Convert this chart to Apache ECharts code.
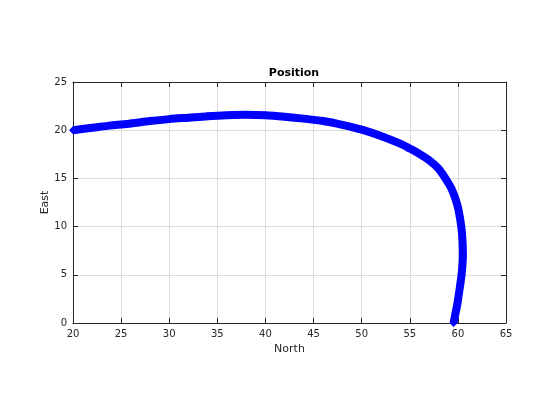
<!DOCTYPE html>
<html><head><meta charset="utf-8">
<script src="https://cdn.jsdelivr.net/npm/echarts@6/dist/echarts.min.js"></script>
<style>html,body{margin:0;padding:0;background:#fff}#c{width:560px;height:420px}</style>
</head><body><div id="c"></div>
<script>
var northValues = [59.55,59.75,59.95,60.1,60.25,60.38,60.47,60.52,60.5,60.45,60.35,60.2,60.0,59.7,59.3,58.7,58.0,57.0,56.0,55.0,54.0,52.0,50.0,48.0,46.0,44.0,42.0,40.0,38.0,36.0,34.0,32.0,30.0,28.0,26.0,24.0,22.0,20.0];
var eastValues  = [0,1,2,3,4,5,6,7,8,9,10,11,12,13,14,15,16,16.9,17.55,18.1,18.6,19.4,20.05,20.55,20.95,21.2,21.4,21.55,21.6,21.55,21.45,21.3,21.15,20.95,20.7,20.5,20.25,20.0];
var xTicks = [20,25,30,35,40,45,50,55,60,65];
var yTicks = [0,5,10,15,20,25];

var pts = northValues.map(function(v,i){return [v, eastValues[i]];});
var font = 'DejaVu Sans';
var axisCol = '#262626';
var chart = echarts.init(document.getElementById('c'), null, {renderer:'canvas'});
chart.setOption({
  animation:false,
  backgroundColor:'#fff',
  title:{text:'Position', left:289, top:63, textAlign:'center',
    textStyle:{fontFamily:font, fontSize:11, fontWeight:'bold', color:'#000'}},
  grid:{left:73, right:54, top:82, bottom:97, containLabel:false},
  xAxis:[{
    type:'value', min:xTicks[0], max:xTicks[xTicks.length-1], interval:5,
    name:'North', nameLocation:'middle', nameGap:20,
    nameTextStyle:{fontFamily:font, fontSize:11, color:axisCol},
    axisLine:{show:true, onZero:false, lineStyle:{color:axisCol, width:1}},
    axisTick:{show:true, inside:true, length:5, lineStyle:{color:axisCol}},
    axisLabel:{fontFamily:font, fontSize:10, color:axisCol, margin:6},
    splitLine:{show:true, lineStyle:{color:'#dcdcdc', width:1}}
  },{
    type:'value', position:'top', min:xTicks[0], max:xTicks[xTicks.length-1], interval:5,
    axisLine:{show:true, onZero:false, lineStyle:{color:axisCol, width:1}},
    axisTick:{show:true, inside:true, length:5, lineStyle:{color:axisCol}},
    axisLabel:{show:false}, splitLine:{show:false}
  }],
  yAxis:[{
    type:'value', min:yTicks[0], max:yTicks[yTicks.length-1], interval:5,
    name:'East', nameLocation:'middle', nameGap:22, nameRotate:90, nameMoveOverlap:false,
    nameTextStyle:{fontFamily:font, fontSize:11, color:axisCol},
    axisLine:{show:true, onZero:false, lineStyle:{color:axisCol, width:1}},
    axisTick:{show:true, inside:true, length:5, lineStyle:{color:axisCol}},
    axisLabel:{fontFamily:font, fontSize:10, color:axisCol, margin:6},
    splitLine:{show:true, lineStyle:{color:'#dcdcdc', width:1}}
  },{
    type:'value', position:'right', min:yTicks[0], max:yTicks[yTicks.length-1], interval:5,
    axisLine:{show:true, onZero:false, lineStyle:{color:axisCol, width:1}},
    axisTick:{show:true, inside:true, length:5, lineStyle:{color:axisCol}},
    axisLabel:{show:false}, splitLine:{show:false}
  }],
  series:[{
    type:'line', data:pts, xAxisIndex:0, yAxisIndex:0,
    smooth:0.3,
    lineStyle:{color:'#0000ff', width:8},
    symbol:'diamond', symbolSize:8, showSymbol:true,
    itemStyle:{color:'#0000ff'},
    clip:false
  }]
});
</script></body></html>
